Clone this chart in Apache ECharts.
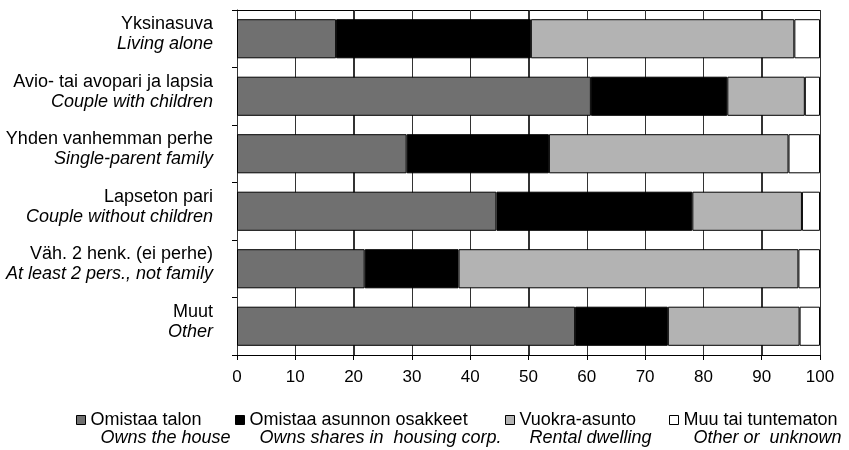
<!DOCTYPE html>
<html>
<head>
<meta charset="utf-8">
<script src="https://cdn.jsdelivr.net/npm/echarts@6/dist/echarts.min.js"></script>
<style>html,body{margin:0;padding:0;background:#fff;}#c{width:849px;height:450px;}</style>
</head>
<body>
<div id="c"></div>
<script>
const categoriesFi = ['Yksinasuva', 'Avio- tai avopari ja lapsia', 'Yhden vanhemman perhe', 'Lapseton pari', 'Väh. 2 henk. (ei perhe)', 'Muut'];
const categoriesEn = ['Living alone', 'Couple with children', 'Single-parent family', 'Couple without children', 'At least 2 pers., not family', 'Other'];
const seriesFi = ['Omistaa talon', 'Omistaa asunnon osakkeet', 'Vuokra-asunto', 'Muu tai tuntematon'];
const seriesEn = ['Owns the house', 'Owns shares in  housing corp.', 'Rental dwelling', 'Other or  unknown'];
const ownsHouse   = [17.0, 60.7, 29.1, 44.5, 21.9, 58.0];
const ownsShares  = [33.4, 23.4, 24.4, 33.6, 16.1, 15.9];
const rental      = [45.2, 13.3, 41.1, 18.8, 58.3, 22.6];
const otherUnknown= [4.4, 2.6, 5.4, 3.1, 3.7, 3.5];
const xTicks = [0, 10, 20, 30, 40, 50, 60, 70, 80, 90, 100];

const FONT = "'Liberation Sans', Arial, sans-serif";
const colors = ['#707070', '#000000', '#b3b3b3', '#ffffff'];
const values = [ownsHouse, ownsShares, rental, otherUnknown];
const legendLeft = [76, 235, 505, 669];

const chart = echarts.init(document.getElementById('c'));
const cats = categoriesFi.map((f, i) => f + '|' + categoriesEn[i]);

// vertical grid lines (and the top frame line) drawn through the axis scale, behind the bars
const gridSeries = {
  type: 'custom', z: 2, silent: true, clip: false,
  data: xTicks.map(v => [v, 0]),
  encode: {x: 0, y: 1},
  renderItem: (params, api) => {
    const cs = params.coordSys;
    const x = Math.round(api.coord([api.value(0), 0])[0]) + 0.5;
    const children = [{
      type: 'line', silent: true,
      shape: {x1: x, y1: cs.y, x2: x, y2: cs.y + cs.height},
      style: {stroke: '#333', lineWidth: 1}
    }];
    if (params.dataIndex === 0) {
      const yTop = Math.round(cs.y) + 0.5;
      children.push({
        type: 'line', silent: true,
        shape: {x1: cs.x, y1: yTop, x2: cs.x + cs.width, y2: yTop},
        style: {stroke: '#000', lineWidth: 1}
      });
    }
    return {type: 'group', children: children};
  }
};

const barSeries = seriesFi.map((name, i) => ({
  name: name, type: 'bar', stack: 'total', data: values[i],
  barWidth: '68%', z: 2,
  itemStyle: {color: colors[i], borderColor: '#000', borderWidth: 1},
  emphasis: {disabled: true}
}));

const option = {
  animation: false,
  textStyle: {fontFamily: FONT, color: '#000'},
  grid: {left: 237, right: 29, top: 10, bottom: 95},
  xAxis: {
    type: 'value', min: 0, max: 100, interval: 10,
    axisLine: {show: true, lineStyle: {color: '#000', width: 1}},
    axisTick: {show: true, length: 5, lineStyle: {color: '#000'}},
    splitLine: {show: true, lineStyle: {color: '#333', width: 1}},
    axisLabel: {fontSize: 17, color: '#000', margin: 14}
  },
  yAxis: {
    type: 'category', inverse: true, data: cats,
    axisLine: {show: true, lineStyle: {color: '#000', width: 1}},
    axisTick: {show: true, length: 5, lineStyle: {color: '#000'}},
    splitLine: {show: false},
    axisLabel: {
      margin: 24, padding: [0, 0, 9, 0],
      formatter: v => { const p = v.split('|'); return '{a|' + p[0] + '}\n{b|' + p[1] + '}'; },
      rich: {
        a: {fontFamily: FONT, fontSize: 18, lineHeight: 20, color: '#000', align: 'right'},
        b: {fontFamily: FONT, fontSize: 18, lineHeight: 20, fontStyle: 'italic', color: '#000', align: 'right'}
      }
    }
  },
  legend: seriesFi.map((name, i) => ({
    data: [name], left: legendLeft[i], top: 393, padding: 0,
    itemWidth: 9, itemHeight: 9, icon: 'rect',
    itemStyle: {borderColor: '#000', borderWidth: 1},
    formatter: n => '{c| }\n{a|' + n + '}\n{b|' + seriesEn[i] + '}',
    textStyle: {
      fontFamily: FONT, color: '#000',
      rich: {
        c: {fontSize: 18, lineHeight: 18},
        a: {fontFamily: FONT, fontSize: 18, lineHeight: 18, color: '#000'},
        b: {fontFamily: FONT, fontSize: 18, lineHeight: 18, fontStyle: 'italic', color: '#000', padding: [0, 0, 0, 10]}
      }
    }
  })),
  series: [gridSeries].concat(barSeries)
};
chart.setOption(option);
</script>
</body>
</html>
